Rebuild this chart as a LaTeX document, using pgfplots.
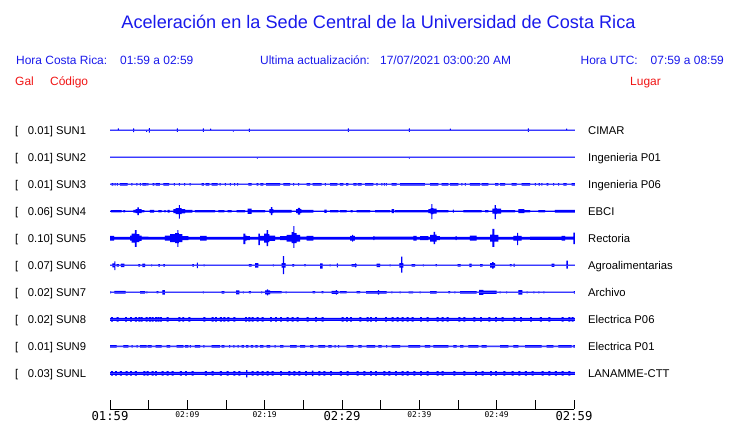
\documentclass[border=0pt]{standalone}
\usepackage{fontspec}
\setmainfont{Liberation Sans}
\newfontfamily\tickfont{DejaVu Sans Mono}
\usepackage{pgfplots}
\pgfplotsset{compat=1.18}
\usepackage{pgfplotstable}

\definecolor{tblue}{RGB}{0,0,255}
\definecolor{txtblue}{RGB}{25,25,235}
\definecolor{txtred}{RGB}{240,20,20}

% columns: t = minutes after 01:59, u/d = envelope above/below trace centre (px)
\pgfplotstableread{
t u d
0 .65 .65
1.02 1.9 .65
1.15 .65 .65
3.0 1.9 1.9
3.13 .65 .65
4.68 .65 1.5
4.81 .65 .65
5.03 2.3 2.3
5.16 .65 .65
8.65 1.9 1.5
8.78 .65 .65
12.0 1.9 1.5
12.13 .65 .65
12.96 1.7 .65
13.09 .65 .65
15.9 .65 1.2
16.03 .65 .65
17.96 1.8 1.5
18.09 .65 .65
30.76 1.9 1.5
30.89 .65 .65
38.65 1.9 1.5
38.78 .65 .65
43.95 1.7 .65
44.08 .65 .65
54.04 1.9 1.5
54.17 .65 .65
58.99 1.7 .65
59.12 .65 .65
60.1 .65 .65
}\sunA

\pgfplotstableread{
t u d
0 .65 .65
18.99 .65 1.4
19.12 .65 .65
38.65 .65 1.4
38.78 .65 .65
60.1 .65 .65
}\sunB

\pgfplotstableread{
t u d
0 .65 .65
0.22 1.3 1.3
0.43 .65 .65
0.6 1.3 1.3
0.73 .65 .65
0.9 1.3 1.3
1.03 .65 .65
1.29 1.3 1.3
2.28 .65 .65
2.77 1.3 1.3
2.9 .65 .65
3.42 1.3 1.3
3.55 .65 .65
3.85 1.3 1.3
3.98 .65 .65
4.18 1.3 1.3
4.74 .65 .65
4.84 1.3 1.3
4.97 .65 .65
5.52 1.3 1.3
5.73 .65 .65
5.9 1.3 1.3
6.46 .65 .65
6.9 1.3 1.3
7.63 .65 .65
8.25 1.3 1.3
8.38 .65 .65
8.89 1.3 1.3
9.02 .65 .65
9.58 1.3 1.3
9.71 .65 .65
10.31 1.3 1.3
10.44 .65 .65
11.85 1.3 1.3
12.15 .65 .65
12.37 1.3 1.3
12.84 .65 .65
13.15 1.3 1.3
13.92 .65 .65
14.19 1.3 1.3
14.32 .65 .65
14.84 1.3 1.3
14.97 .65 .65
15.49 1.3 1.3
15.62 .65 .65
16.05 1.3 1.3
16.18 .65 .65
16.44 1.3 1.3
16.57 .65 .65
17.89 1.3 1.3
18.32 .65 .65
18.97 1.3 1.3
19.18 .65 .65
19.45 1.3 1.3
19.83 .65 .65
20.18 1.3 1.3
21.99 .65 .65
22.42 1.3 1.3
23.28 .65 .65
23.68 1.3 1.3
23.81 .65 .65
24.33 1.3 1.3
24.46 .65 .65
25.43 1.3 1.3
25.87 .65 .65
26.21 1.3 1.3
27.37 .65 .65
27.78 1.3 1.3
27.91 .65 .65
28.45 1.3 1.3
29.4 .65 .65
29.74 1.3 1.3
30.18 .65 .65
30.52 1.3 1.3
30.82 .65 .65
31.47 1.3 1.3
31.9 .65 .65
32.03 1.3 1.3
32.55 .65 .65
32.98 1.3 1.3
34.06 .65 .65
34.46 1.3 1.3
34.59 .65 .65
35.1 1.3 1.3
35.23 .65 .65
35.4 1.3 1.3
35.53 .65 .65
35.66 1.3 1.3
35.79 .65 .65
36.43 1.3 1.3
37.07 .65 .65
37.5 1.3 1.3
40.73 .65 .65
41.38 1.3 1.3
42.46 .65 .65
42.89 1.3 1.3
43.75 .65 .65
43.97 1.3 1.3
45.04 .65 .65
45.44 1.3 1.3
45.57 .65 .65
45.88 1.3 1.3
46.01 .65 .65
46.55 1.3 1.3
47.85 .65 .65
48.06 1.3 1.3
48.92 .65 .65
49.79 1.3 1.3
50.22 .65 .65
50.43 1.3 1.3
51.08 .65 .65
51.94 1.3 1.3
52.59 .65 .65
53.23 1.3 1.3
54.31 .65 .65
54.93 1.3 1.3
55.06 .65 .65
55.44 1.3 1.3
55.57 .65 .65
55.79 1.3 1.3
55.92 .65 .65
56.47 1.3 1.3
56.68 .65 .65
57.3 1.3 1.3
57.43 .65 .65
57.94 1.3 1.3
58.07 .65 .65
58.62 1.3 1.3
59.05 .65 .65
59.7 1.3 1.3
60.1 1.3 1.3
}\sunC

\pgfplotstableread{
t u d
0 .65 .65
0.13 1.1 1.1
1.51 .65 .65
1.72 1.1 1.1
1.94 .65 .65
3.02 1.3 1.3
3.32 2 2
3.55 3.8 4
3.72 2 2
4.09 1.1 1.1
4.44 .65 .65
5.17 1.3 1.3
5.69 .65 .65
6.25 1.1 1.1
6.68 .65 .65
7.03 1.1 1.1
7.2 .65 .65
7.46 1.3 1.3
7.72 .65 .65
8.19 2 2
8.49 3 3
8.9 6 7.5
9.05 3 3
9.27 2.2 2.2
9.7 1.3 1.3
10.65 .65 .65
10.99 1.1 1.1
13.58 .65 .65
14.0 1.1 1.1
14.78 .65 .65
15.2 1.1 1.1
15.73 .65 .65
16.38 1.1 1.1
17.46 .65 .65
17.8 2.7 2.7
18.32 1.1 1.1
20.05 .65 .65
20.61 2 2
20.8 4 4
21.0 2 2
21.12 1.3 1.3
23.49 .65 .65
24.06 2 2
24.3 3.3 3.3
24.6 2 2
24.74 1.3 1.3
26.3 .65 .65
27.72 1.7 1.7
28.02 .65 .65
28.45 1.1 1.1
29.53 .65 .65
29.74 1.1 1.1
30.61 .65 .65
31.12 1.1 1.1
31.38 .65 .65
31.9 1.2 1.2
33.62 .65 .65
34.27 1.1 1.1
36.21 .65 .65
36.43 2 2
36.73 .65 .65
36.86 1.2 1.2
41.16 2 2
41.45 3 3
41.55 7 8
41.7 3 3
41.81 2.5 2.5
42.24 1.2 1.2
43.75 .65 .65
44.35 1.5 1.5
44.48 .65 .65
45.69 1.2 1.2
48.06 .65 .65
48.49 1.2 1.2
48.92 .65 .65
49.44 2.5 2.5
49.75 6 8
49.9 3 3
50.0 2.5 2.5
50.56 1.2 1.2
52.37 .65 .65
52.8 2 2
53.58 1.2 1.2
54.31 .65 .65
55.39 1.2 1.2
56.25 .65 .65
57.54 1.3 1.3
60.1 1.3 1.3
}\sunD

\pgfplotstableread{
t u d
0 2.3 2.3
0.52 1.4 1.4
2.59 2.5 2.5
2.8 4.5 4.5
3.23 8 8.7
3.45 4 4
3.8 2.7 2.7
4.09 1.5 1.5
4.96 1.4 1.4
7.11 2.5 2.5
7.76 4 4
8.41 5 5
8.7 8 8.7
8.85 5 5
8.92 4 4
9.35 2 2
10.13 1.4 1.4
11.64 2.3 2.3
12.5 1.4 1.4
17.24 4.7 6
17.5 2.5 2.5
17.67 2 2
18.1 1.4 1.4
19.2 4.7 7
19.38 2.3 2.3
19.92 4.5 4.5
20.25 8 8
20.45 4 4
20.61 2.7 2.7
21.34 1.4 1.4
21.99 2 2
22.85 3.3 3.3
23.49 6 5
23.72 12 9.7
23.85 5 5
24.14 3.3 3.3
24.57 1.5 1.5
25.43 2.3 2.3
26.3 1.4 1.4
31.04 2.3 2.3
31.3 3.3 3.3
31.43 2.3 2.3
31.68 1.4 1.4
34.06 2 2
34.2 1.5 1.5
39.23 2.3 2.3
39.66 1.4 1.4
40.09 2 2
41.16 1.4 1.4
41.38 3.3 3.3
41.85 6.3 6
42.05 3.5 3.5
42.24 2 2
42.67 1.4 1.4
44.7 2 2
44.83 1.4 1.4
46.55 2.5 2.5
47.41 1.4 1.4
49.14 3.5 3.5
49.45 9.3 8.7
49.7 3.3 3.3
50.22 1.4 1.4
52.16 2.3 2.3
52.65 5.3 7
52.78 2.3 2.3
53.23 1.4 1.4
54.31 1.6 1.6
58.41 2.3 2.3
58.84 1.5 1.5
59.92 5.7 6
60.1 5.7 6
}\sunE

\pgfplotstableread{
t u d
0 .65 .65
0.3 2 2
0.55 4 4.7
0.68 .65 .65
0.86 1.3 1.3
1.16 .65 .65
1.42 1.7 1.7
1.85 .65 .65
3.66 1.3 1.3
3.88 .65 .65
4.18 1.7 1.7
4.53 .65 .65
5.33 1 1
5.46 .65 .65
6.25 1.3 1.3
6.46 .65 .65
6.9 1.3 1.3
7.11 .65 .65
10.65 1.3 1.3
10.86 .65 .65
11.22 2.7 2.7
11.35 .65 .65
12.09 1 1
12.22 .65 .65
17.97 1.3 1.3
18.32 .65 .65
18.75 2.3 2.3
19.18 .65 .65
21.06 1 1
21.19 .65 .65
22.2 2.3 2.3
22.36 9.3 8.7
22.5 2.3 2.3
22.7 .65 .65
23.58 1.3 1.3
23.8 .65 .65
25.13 1.1 1.1
25.3 .65 .65
27.16 2 3.3
27.5 .65 .65
28.39 1 1
28.52 .65 .65
29.34 2 2
29.47 .65 .65
31.25 1.3 1.3
31.7 2 2
31.83 1.3 1.3
31.9 .65 .65
34.49 1.7 1.7
34.92 .65 .65
36.15 1 1
36.28 .65 .65
37.42 2.3 2.3
37.66 8.7 7.3
37.8 2.3 2.3
37.93 .65 .65
39.01 1.3 1.3
39.44 .65 .65
40.46 1 1
40.59 .65 .65
42.11 1.1 1.1
42.28 .65 .65
44.96 1.3 1.3
45.35 .65 .65
46.46 1.7 1.7
46.77 .65 .65
47.85 1.3 1.3
48.19 .65 .65
49.14 2.3 2.3
49.4 3.3 3.3
49.6 2.3 2.3
49.79 .65 .65
51.72 1.1 1.1
51.94 .65 .65
52.18 1.6 1.6
52.31 .65 .65
57.11 1.6 1.6
57.46 .65 .65
59.0 4.7 3.3
59.2 .65 .65
60.1 .65 .65
}\sunF

\pgfplotstableread{
t u d
0 1 1
0.13 .65 .65
0.56 1.4 1.4
2.03 .65 .65
3.88 1.3 1.3
4.53 .65 .65
4.7 1 1
4.83 .65 .65
6.03 1.1 1.1
6.25 .65 .65
6.77 2.3 2.3
7.11 .65 .65
12.0 1 1
12.13 .65 .65
14.44 1.3 1.3
14.78 .65 .65
16.3 2 2
16.72 .65 .65
17.18 1 1
17.31 .65 .65
17.97 1.1 1.1
18.23 .65 .65
19.55 1 1
19.68 .65 .65
20.05 2 2
20.3 3 3
20.45 2 2
20.69 1.1 1.1
22.2 .65 .65
22.7 1 1
22.83 .65 .65
26.21 1.1 1.1
26.51 .65 .65
27.37 1.1 1.1
27.59 .65 .65
28.67 1.5 1.5
29.2 2.3 2.3
29.33 1.5 1.5
29.53 .65 .65
29.74 1.1 1.1
30.61 .65 .65
31.9 1.1 1.1
32.33 .65 .65
33.11 1.3 1.3
34.65 2.3 2.3
34.8 1.3 1.3
35.78 .65 .65
36.37 1 1
36.5 .65 .65
37.44 1 1
37.57 .65 .65
38.6 1 1
39.2 .65 .65
40.04 1 1
40.17 .65 .65
41.38 1.3 1.3
42.24 .65 .65
43.75 1.1 1.1
43.97 .65 .65
44.54 1 1
44.67 .65 .65
45.26 1.3 1.3
47.41 .65 .65
47.72 2.5 2.5
48.28 1.6 1.6
50.0 .65 .65
50.37 1 1
50.5 .65 .65
51.23 1 1
51.36 .65 .65
52.8 2.3 2.3
53.32 .65 .65
53.88 1 1
54.01 .65 .65
54.73 1 1
54.86 .65 .65
55.38 1 1
55.51 .65 .65
56.04 1 1
56.17 .65 .65
59.98 1.3 1.3
60.1 1.3 1.3
}\sunG

\pgfplotstableread{
t u d
0 1.5 1.5
0.13 2.3 2.3
0.38 1.5 1.5
0.86 2.3 2.3
1.11 1.5 1.5
1.94 2.3 2.3
2.19 1.5 1.5
2.59 2.3 2.3
2.84 1.5 1.5
3.23 2.3 2.3
3.48 1.5 1.5
3.66 2.3 2.3
3.91 1.5 1.5
3.96 2.3 2.3
4.21 1.5 1.5
4.61 2.3 2.3
4.86 1.5 1.5
5.04 2.3 2.3
5.29 1.5 1.5
5.39 2.3 2.3
5.64 1.5 1.5
5.82 2.3 2.3
6.07 1.5 1.5
6.12 2.3 2.3
6.37 1.5 1.5
6.46 2.3 2.3
6.71 1.5 1.5
7.33 2.3 2.3
7.58 1.5 1.5
8.84 2.3 2.3
9.09 1.5 1.5
9.35 2.3 2.3
9.6 1.5 1.5
10.13 2.3 2.3
10.38 1.5 1.5
12.07 2.3 2.3
12.32 1.5 1.5
13.15 2.3 2.3
13.4 1.5 1.5
13.58 2.3 2.3
13.83 1.5 1.5
14.22 2.3 2.3
14.47 1.5 1.5
14.66 2.3 2.3
14.91 1.5 1.5
15.17 2.3 2.3
15.42 1.5 1.5
15.95 2.3 2.3
16.2 1.5 1.5
17.46 2.3 2.3
17.71 1.5 1.5
17.89 2.3 2.3
18.14 1.5 1.5
18.32 2.3 2.3
18.57 1.5 1.5
18.97 2.3 2.3
19.22 1.5 1.5
19.61 2.3 2.3
19.86 1.5 1.5
20.69 2.3 2.3
20.94 1.5 1.5
21.34 2.3 2.3
21.59 1.5 1.5
21.99 2.3 2.3
22.24 1.5 1.5
22.85 2.3 2.3
23.1 1.5 1.5
23.49 2.3 2.3
23.74 1.5 1.5
24.14 2.3 2.3
24.39 1.5 1.5
25.43 2.3 2.3
25.68 1.5 1.5
26.51 2.3 2.3
26.76 1.5 1.5
27.37 2.3 2.3
27.62 1.5 1.5
29.96 2.3 2.3
30.21 1.5 1.5
30.52 2.3 2.3
30.77 1.5 1.5
31.04 2.3 2.3
31.29 1.5 1.5
32.24 2.3 2.3
32.49 1.5 1.5
33.19 2.3 2.3
33.44 1.5 1.5
33.62 2.3 2.3
33.87 1.5 1.5
34.27 2.3 2.3
34.52 1.5 1.5
35.56 2.3 2.3
35.81 1.5 1.5
36.43 2.3 2.3
36.68 1.5 1.5
37.07 2.3 2.3
37.32 1.5 1.5
37.72 2.3 2.3
37.97 1.5 1.5
38.37 2.3 2.3
38.62 1.5 1.5
39.01 2.3 2.3
39.26 1.5 1.5
40.09 2.3 2.3
40.34 1.5 1.5
40.95 2.3 2.3
41.2 1.5 1.5
42.24 2.3 2.3
42.49 1.5 1.5
42.89 2.3 2.3
43.14 1.5 1.5
43.53 2.3 2.3
43.78 1.5 1.5
45.04 2.3 2.3
45.29 1.5 1.5
45.69 2.3 2.3
45.94 1.5 1.5
46.98 2.3 2.3
47.23 1.5 1.5
47.85 2.3 2.3
48.1 1.5 1.5
48.92 2.3 2.3
49.17 1.5 1.5
49.79 2.3 2.3
50.04 1.5 1.5
50.65 2.3 2.3
50.9 1.5 1.5
52.16 2.3 2.3
52.41 1.5 1.5
53.02 2.3 2.3
53.27 1.5 1.5
54.31 2.3 2.3
54.56 1.5 1.5
55.6 2.3 2.3
55.85 1.5 1.5
56.68 2.3 2.3
56.93 1.5 1.5
58.41 2.3 2.3
58.66 1.5 1.5
59.27 2.3 2.3
59.52 1.5 1.5
59.7 2.3 2.3
59.95 1.5 1.5
60.1 1.5 1.5
}\sunH

\pgfplotstableread{
t u d
0 1.3 1.3
0.86 .7 .7
1.72 1.3 1.3
2.37 .7 .7
2.8 1.3 1.3
2.93 .7 .7
3.45 1.3 1.3
3.58 .7 .7
3.88 1.3 1.3
4.74 .7 .7
4.87 1.3 1.3
5.39 .7 .7
5.9 1.3 1.3
6.68 .7 .7
7.33 1.3 1.3
7.76 .7 .7
8.62 1.3 1.3
9.48 .7 .7
9.7 1.3 1.3
10.13 .7 .7
10.34 1.3 1.3
10.47 .7 .7
10.99 1.3 1.3
11.64 .7 .7
12.07 1.3 1.3
12.2 .7 .7
13.15 1.3 1.3
14.22 .7 .7
14.44 1.3 1.3
14.78 .7 .7
15.39 1.3 1.3
15.52 .7 .7
15.95 1.3 1.3
16.08 .7 .7
16.51 1.3 1.3
16.64 .7 .7
17.03 1.3 1.3
17.3 .7 .7
17.6 1.3 1.3
17.9 .7 .7
18.2 1.3 1.3
18.5 .7 .7
18.8 1.3 1.3
19.1 .7 .7
19.4 1.3 1.3
19.83 .7 .7
20.26 1.3 1.3
20.69 .7 .7
21.3 1.3 1.3
21.43 .7 .7
21.99 1.3 1.3
22.42 .7 .7
23.28 1.3 1.3
24.14 .7 .7
24.57 1.3 1.3
25.22 .7 .7
25.87 1.3 1.3
26.3 .7 .7
26.94 1.3 1.3
27.81 .7 .7
28.24 1.3 1.3
28.67 .7 .7
29.05 1.3 1.3
29.18 .7 .7
29.5 1.3 1.3
29.63 .7 .7
30.61 1.3 1.3
31.47 .7 .7
32.12 1.3 1.3
32.55 .7 .7
33.19 1.3 1.3
34.27 .7 .7
34.7 1.3 1.3
35.13 .7 .7
35.72 1.3 1.3
35.85 .7 .7
36.43 1.3 1.3
37.5 .7 .7
38.58 1.3 1.3
40.09 .7 .7
40.73 1.3 1.3
41.38 .7 .7
41.81 1.3 1.3
43.75 .7 .7
44.4 1.3 1.3
44.83 .7 .7
45.26 1.3 1.3
45.69 .7 .7
46.34 1.3 1.3
47.63 .7 .7
48.06 1.3 1.3
48.71 .7 .7
50.43 1.3 1.3
51.51 .7 .7
52.16 1.3 1.3
52.8 .7 .7
53.67 1.3 1.3
55.82 .7 .7
56.47 1.3 1.3
57.33 .7 .7
57.97 1.3 1.3
59.7 .7 .7
59.92 1.3 1.3
60.1 1.3 1.3
}\sunI

\pgfplotstableread{
t u d
0 1.5 1.5
0.13 2.3 2.3
0.38 1.5 1.5
0.65 2.3 2.3
0.9 1.5 1.5
1.29 2.3 2.3
1.54 1.5 1.5
2.03 2.3 2.3
2.28 1.5 1.5
2.59 2.3 2.3
2.84 1.5 1.5
3.23 2.3 2.3
3.48 1.5 1.5
4.31 2.3 2.3
4.56 1.5 1.5
4.74 2.3 2.3
4.99 1.5 1.5
5.39 2.3 2.3
5.64 1.5 1.5
5.82 2.3 2.3
6.07 1.5 1.5
6.68 2.3 2.3
6.93 1.5 1.5
7.33 2.3 2.3
7.58 1.5 1.5
7.97 2.3 2.3
8.22 1.5 1.5
9.05 2.3 2.3
9.3 1.5 1.5
9.7 2.3 2.3
9.95 1.5 1.5
10.56 2.3 2.3
10.81 1.5 1.5
12.28 2.3 2.3
12.53 1.5 1.5
13.15 2.3 2.3
13.4 1.5 1.5
14.22 2.3 2.3
14.47 1.5 1.5
15.09 2.3 2.3
15.34 1.5 1.5
15.95 2.3 2.3
16.2 1.5 1.5
16.6 2.3 2.3
16.85 1.5 1.5
17.6 3.3 4
17.75 1.5 1.5
18.32 2.3 2.3
18.57 1.5 1.5
18.97 2.3 2.3
19.22 1.5 1.5
19.61 2.3 2.3
19.86 1.5 1.5
20.26 2.3 2.3
20.51 1.5 1.5
20.91 2.3 2.3
21.16 1.5 1.5
21.99 2.3 2.3
22.24 1.5 1.5
23.06 2.3 2.3
23.31 1.5 1.5
23.71 2.3 2.3
23.96 1.5 1.5
24.36 2.3 2.3
24.61 1.5 1.5
25.22 2.3 2.3
25.47 1.5 1.5
26.1 2.7 2.7
26.3 1.5 1.5
26.94 2.3 2.3
27.19 1.5 1.5
27.59 2.3 2.3
27.84 1.5 1.5
28.45 2.3 2.3
28.7 1.5 1.5
29.74 2.3 2.3
29.99 1.5 1.5
30.61 2.3 2.3
30.86 1.5 1.5
31.9 2.3 2.3
32.15 1.5 1.5
32.76 2.3 2.3
33.01 1.5 1.5
33.62 2.3 2.3
33.87 1.5 1.5
34.27 2.3 2.3
34.52 1.5 1.5
35.35 2.3 2.3
35.6 1.5 1.5
36.0 2.3 2.3
36.25 1.5 1.5
36.86 2.3 2.3
37.11 1.5 1.5
37.72 2.3 2.3
37.97 1.5 1.5
38.37 2.3 2.3
38.62 1.5 1.5
39.23 2.3 2.3
39.48 1.5 1.5
40.09 2.3 2.3
40.34 1.5 1.5
40.95 2.3 2.3
41.2 1.5 1.5
42.24 2.3 2.3
42.49 1.5 1.5
42.89 2.3 2.3
43.14 1.5 1.5
44.4 2.3 2.3
44.65 1.5 1.5
45.69 2.3 2.3
45.94 1.5 1.5
47.2 2.3 2.3
47.45 1.5 1.5
48.06 2.3 2.3
48.31 1.5 1.5
49.14 2.3 2.3
49.39 1.5 1.5
49.79 2.3 2.3
50.04 1.5 1.5
50.86 2.3 2.3
51.11 1.5 1.5
51.94 2.3 2.3
52.19 1.5 1.5
52.8 2.3 2.3
53.05 1.5 1.5
53.66 2.3 2.3
53.91 1.5 1.5
54.53 2.3 2.3
54.78 1.5 1.5
55.82 2.3 2.3
56.07 1.5 1.5
56.68 2.3 2.3
56.93 1.5 1.5
57.54 2.3 2.3
57.79 1.5 1.5
58.41 2.3 2.3
58.66 1.5 1.5
59.27 2.3 2.3
59.52 1.5 1.5
60.1 1.5 1.5
}\sunL

\newcommand\trace[2]{%
\begin{axis}[at={(110bp,-#2bp)}, anchor=origin, scale only axis,
  width=464bp, height=27bp, xmin=0, xmax=60, ymin=-13.5, ymax=13.5,
  hide axis, clip=false]
\addplot[fill=tblue, draw=none, const plot] table[x=t, y=u] {#1} \closedcycle;
\addplot[fill=tblue, draw=none, const plot] table[x=t, y expr=-\thisrow{d}] {#1} \closedcycle;
\end{axis}}

\newcommand\biglab[1]{{\fontsize{12.3}{13}\selectfont #1}}
\newcommand\smalllab[1]{{\fontsize{8}{9}\selectfont #1}}

\begin{document}
\begin{tikzpicture}
\begin{scope}[x=1bp,y=-1bp]
\path[use as bounding box] (0,0) rectangle (740,423);
\end{scope}

\trace{\sunA}{130.3}
\trace{\sunB}{157.3}
\trace{\sunC}{184.3}
\trace{\sunD}{211.2}
\trace{\sunE}{238.2}
\trace{\sunF}{265.3}
\trace{\sunG}{292.3}
\trace{\sunH}{319.3}
\trace{\sunI}{346.3}
\trace{\sunL}{373.3}

\begin{axis}[at={(110bp,-409bp)}, anchor=origin, scale only axis,
  width=464bp, height=12bp, xmin=0, xmax=60, ymin=0, ymax=1,
  axis x line=bottom, axis y line=none,
  axis line style={black, line width=0.8bp, -},
  xtick={0,5,...,60}, ytick=\empty,
  xtick align=inside, major tick length=9bp,
  tick style={black, line width=0.8bp},
  xticklabels={\biglab{01:59},,\smalllab{02:09},,\smalllab{02:19},,\biglab{02:29},,\smalllab{02:39},,\smalllab{02:49},,\biglab{02:59}},
  xticklabel style={anchor=north, inner sep=0pt, yshift=-2bp, font=\tickfont, text=black}]
\end{axis}

\begin{scope}[x=1bp,y=-1bp]
\node[anchor=base, text=txtblue, inner sep=0pt, font=\fontsize{18.2}{21}\selectfont] at (378.5,28.5)
  {Aceleración en la Sede Central de la Universidad de Costa Rica};
\begin{scope}[every node/.style={anchor=base west, inner sep=0pt, font=\fontsize{12}{14}\selectfont}]
\node[text=txtblue] at (16,64.3) {Hora Costa Rica:};
\node[text=txtblue] at (120,64.3) {01:59 a 02:59};
\node[text=txtblue] at (260,64.3) {Ultima actualización:};
\node[text=txtblue] at (380,64.3) {17/07/2021 03:00:20 AM};
\node[text=txtblue] at (580.5,64.3) {Hora UTC:};
\node[text=txtblue] at (650.5,64.3) {07:59 a 08:59};
\node[text=txtred] at (15,85.3) {Gal};
\node[text=txtred] at (50,85.3) {Código};
\node[text=txtred] at (630,85.3) {Lugar};
\end{scope}
\begin{scope}[every node/.style={anchor=base west, inner sep=0pt, text=black, font=\fontsize{11.3}{13}\selectfont}]
\foreach \yy/\gal/\cod/\lug in {130.3/0.01/SUN1/CIMAR, 157.3/0.01/SUN2/Ingenieria P01,
  184.3/0.01/SUN3/Ingenieria P06, 211.2/0.06/SUN4/EBCI, 238.2/0.10/SUN5/Rectoria,
  265.3/0.07/SUN6/Agroalimentarias, 292.3/0.02/SUN7/Archivo, 319.3/0.02/SUN8/Electrica P06,
  346.3/0.01/SUN9/Electrica P01, 373.3/0.03/SUNL/LANAMME-CTT}{
  \node at (15,\yy+4.1) {[};
  \node at (27.7,\yy+4.1) {\gal] \cod};
  \node at (588,\yy+4.1) {\lug};
}
\end{scope}
\end{scope}
\end{tikzpicture}
\end{document}
